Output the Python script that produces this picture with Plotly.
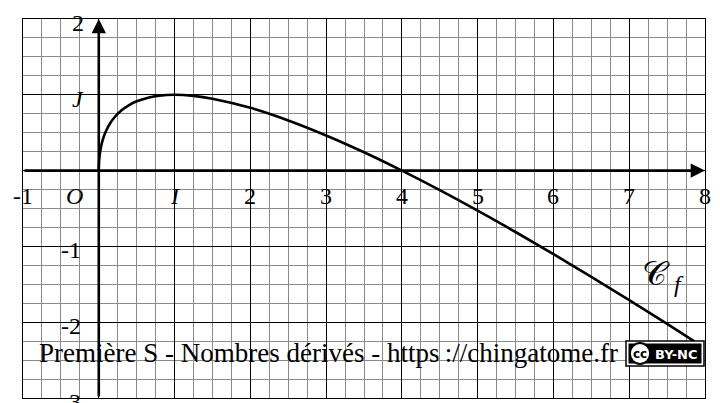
import plotly.graph_objects as go

# Curve C_f, points
curve_x = [0, 0.002, 0.01, 0.03, 0.06, 0.1, 0.15, 0.2, 0.3, 0.4, 0.5, 0.65, 0.8, 1.0,
           1.25, 1.5, 2.0, 2.5, 3.0, 3.5, 4.0, 4.5, 5.0, 5.5, 6.0, 6.5, 7.0, 7.5, 7.86]
curve_y = [0, 0.087, 0.19, 0.316, 0.43, 0.532, 0.625, 0.694, 0.795, 0.865, 0.914, 0.962,
           0.989, 1.0, 0.986, 0.949, 0.828, 0.662, 0.464, 0.242, 0.0, -0.257, -0.528,
           -0.81, -1.101, -1.401, -1.708, -2.023, -2.253]

# Axis labels
x_label_pos = [-1, 1, 2, 3, 4, 5, 6, 7, 8]
x_label_txt = ["-1", "<i>I</i>", "2", "3", "4", "5", "6", "7", "8"]
y_label_pos = [2, 1, -1, -2, -3]
y_label_txt = ["2", "<i>J</i>", "-1", "-2", "-3"]

X_MIN, X_MAX, Y_MIN, Y_MAX = -1, 8, -3, 2
W, H = 720, 403
ML, MR, MT, MB = 23, 15, 19, 5
PW, PH = W - ML - MR, H - MT - MB

SERIF = "Liberation Serif"


def px(x):
    return (x - ML) / PW


def py(y):
    return (H - MB - y) / PH


def to_paper_y(v):
    # data y -> paper fraction (for labels placed past the axis range)
    return (v - Y_MIN) / (Y_MAX - Y_MIN)


def to_paper_x(v):
    return (v - X_MIN) / (X_MAX - X_MIN)


fig = go.Figure()

fig.add_trace(go.Scatter(
    x=curve_x, y=curve_y, mode="lines",
    line=dict(color="black", width=2.6, shape="spline", smoothing=1.0),
    hoverinfo="skip", showlegend=False,
))

annotations = []
# Axes with arrow heads
annotations.append(dict(x=X_MAX, y=0, ax=X_MIN, ay=0, xref="x", yref="y", axref="x", ayref="y",
                        showarrow=True, arrowhead=2, arrowsize=1.1, arrowwidth=2.6,
                        arrowcolor="black", text=""))
annotations.append(dict(x=0, y=Y_MAX, ax=0, ay=Y_MIN, xref="x", yref="y", axref="x", ayref="y",
                        showarrow=True, arrowhead=2, arrowsize=1.1, arrowwidth=2.6,
                        arrowcolor="black", text=""))

lab_font = dict(family=SERIF, size=24, color="black")
for xv, t in zip(x_label_pos, x_label_txt):
    annotations.append(dict(x=to_paper_x(xv), y=to_paper_y(-0.33), xref="paper", yref="paper",
                            text=t, showarrow=False, font=lab_font,
                            xanchor="center", yanchor="middle"))
annotations.append(dict(x=to_paper_x(-0.32), y=to_paper_y(-0.33), xref="paper", yref="paper",
                        text="<i>O</i>", showarrow=False, font=lab_font,
                        xanchor="center", yanchor="middle"))
for yv, t in zip(y_label_pos, y_label_txt):
    xl = -0.28 if t in ("2", "<i>J</i>") else -0.37
    annotations.append(dict(x=to_paper_x(xl), y=to_paper_y(yv - 0.05), xref="paper", yref="paper",
                            text=t, showarrow=False, font=lab_font,
                            xanchor="center", yanchor="middle"))

# Curve name
annotations.append(dict(x=7.35, y=-1.35, text="𝒞", showarrow=False,
                        font=dict(family="DejaVu Serif", size=34, color="black"),
                        xanchor="center", yanchor="middle"))
annotations.append(dict(x=7.66, y=-1.5, text="<i>f</i>", showarrow=False,
                        font=dict(family=SERIF, size=24, color="black"),
                        xanchor="center", yanchor="middle"))

# Footer
annotations.append(dict(x=px(37), y=py(353), xref="paper", yref="paper",
                        text="Première S - Nombres dérivés - https\u2009://chingatome.fr",
                        showarrow=False, font=dict(family=SERIF, size=27, color="black"),
                        xanchor="left", yanchor="middle"))
# Licence badge text
annotations.append(dict(x=px(676), y=py(354), xref="paper", yref="paper", text="<b>BY-NC</b>",
                        showarrow=False, font=dict(family="DejaVu Sans", size=13, color="white"),
                        xanchor="center", yanchor="middle"))
annotations.append(dict(x=px(640), y=py(354), xref="paper", yref="paper", text="<b>cc</b>",
                        showarrow=False, font=dict(family="DejaVu Sans", size=12, color="black"),
                        xanchor="center", yanchor="middle"))

shapes = [
    dict(type="rect", xref="paper", yref="paper", x0=px(626), x1=px(704), y0=py(366), y1=py(341),
         fillcolor="white", line=dict(color="black", width=1.5), layer="above"),
    dict(type="rect", xref="paper", yref="paper", x0=px(628.5), x1=px(701.5), y0=py(363.5), y1=py(343.5),
         fillcolor="black", line=dict(width=0), layer="above"),
    dict(type="circle", xref="paper", yref="paper", x0=px(630), x1=px(650), y0=py(364), y1=py(343),
         fillcolor="white", line=dict(color="black", width=1.8), layer="above"),
]

fig.update_layout(
    width=W, height=H,
    margin=dict(l=ML, r=MR, t=MT, b=MB, pad=0),
    paper_bgcolor="white", plot_bgcolor="white",
    showlegend=False,
    annotations=annotations,
    shapes=shapes,
    xaxis=dict(range=[X_MIN, X_MAX], tick0=0, dtick=1, showgrid=True, gridcolor="black", gridwidth=1,
               minor=dict(tick0=0, dtick=0.25, showgrid=True, gridcolor="#8a8a8a", gridwidth=1),
               showticklabels=False, ticks="", zeroline=False,
               showline=True, mirror=True, linecolor="black", linewidth=1.2, fixedrange=True),
    yaxis=dict(range=[Y_MIN, Y_MAX], tick0=0, dtick=1, showgrid=True, gridcolor="black", gridwidth=1,
               minor=dict(tick0=0, dtick=0.25, showgrid=True, gridcolor="#8a8a8a", gridwidth=1),
               showticklabels=False, ticks="", zeroline=False,
               showline=True, mirror=True, linecolor="black", linewidth=1.2, fixedrange=True),
)

fig.write_html("out.html")
